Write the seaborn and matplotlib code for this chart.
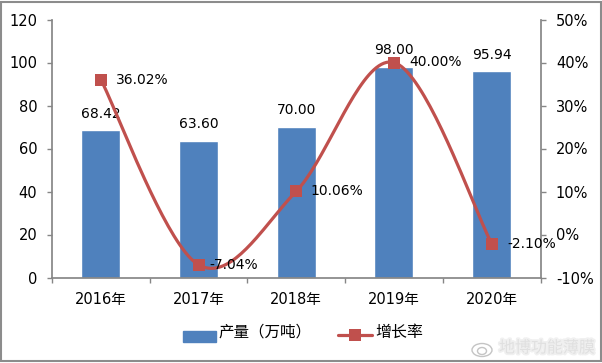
import numpy as np
import pandas as pd
import matplotlib
matplotlib.use("Agg")
import matplotlib.pyplot as plt
import matplotlib.patheffects as pe
import seaborn as sns
from matplotlib.patches import Rectangle, Ellipse
from matplotlib.lines import Line2D

years = ["2016年", "2017年", "2018年", "2019年", "2020年"]
output = [68.42, 63.60, 70.00, 98.00, 95.94]
growth = [36.02, -7.04, 10.06, 40.00, -2.10]
output_labels = ["68.42", "63.60", "70.00", "98.00", "95.94"]
growth_labels = ["36.02%", "-7.04%", "10.06%", "40.00%", "-2.10%"]
left_ticks = [0, 20, 40, 60, 80, 100, 120]
right_ticks = [-10, 0, 10, 20, 30, 40, 50]

BAR = "#4f81bd"
LINE = "#c0504d"
GREY = "#868686"

sns.set_theme(style="white")
plt.rcParams["font.family"] = ["DejaVu Sans", "Noto Sans CJK SC"]


def smooth_curve(xs, ys, n=40):
    # excel style smoothing, catmull-rom through the points
    xs = np.asarray(xs, dtype=float)
    ys = np.asarray(ys, dtype=float)
    px = np.r_[xs[0], xs, xs[-1]]
    py = np.r_[ys[0], ys, ys[-1]]
    out_x, out_y = [], []
    t = np.linspace(0, 1, n)
    for i in range(1, len(px) - 2):
        for p, out in ((px, out_x), (py, out_y)):
            a, b, c, d = p[i - 1], p[i], p[i + 1], p[i + 2]
            out.extend(0.5 * (2 * b + (c - a) * t + (2 * a - 5 * b + 4 * c - d) * t ** 2
                              + (3 * b - a - 3 * c + d) * t ** 3))
    return out_x, out_y


def fx(px):
    return px / 602


def fy(py):
    return 1 - py / 363


fig = plt.figure(figsize=(6.02, 3.63), dpi=100)
ax = fig.add_axes([fx(52), fy(277.5), 488.5 / 602, 258 / 363])

df = pd.DataFrame({"year": years, "output": output, "growth": growth})
sns.barplot(data=df, x="year", y="output", color=BAR, saturation=1, width=0.4, ax=ax)
ax.set_xlim(-0.5, 4.5)
ax.set_ylim(0, 120)
ax.set_xlabel("")
ax.set_ylabel("")
ax.set_yticks(left_ticks)

ax2 = ax.twinx()
cx, cy = smooth_curve(range(len(years)), growth)
sns.lineplot(x=cx, y=cy, color=LINE, lw=2.3, sort=False, ax=ax2)
sns.scatterplot(x=list(range(len(years))), y=growth, color=LINE, marker="s", s=80,
                linewidth=0, zorder=4, ax=ax2)
ax2.set_ylim(-10, 50)
ax2.set_yticks(right_ticks)
ax2.set_yticklabels([f"{v}%" for v in right_ticks])
ax2.set_ylabel("")

for a in (ax, ax2):
    for s in a.spines.values():
        s.set_visible(False)
ax.spines["left"].set_visible(True)
ax.spines["bottom"].set_visible(True)
ax.spines["left"].set_color(GREY)
ax.spines["bottom"].set_color(GREY)
ax2.spines["right"].set_visible(True)
ax2.spines["right"].set_color(GREY)

ax.tick_params(axis="y", left=True, length=3.6, width=1, color=GREY, labelsize=10.5,
               labelcolor="black", pad=7)
ax2.tick_params(axis="y", right=True, length=3.6, width=1, color=GREY, labelsize=10.5,
                labelcolor="black", pad=7.5)

# category ticks sit between the bars
ax.set_xticks(np.arange(-0.5, 5), minor=True)
ax.tick_params(axis="x", which="major", length=0, labelsize=10.5, labelcolor="black", pad=10.5)
ax.tick_params(axis="x", which="minor", bottom=True, length=3.6, width=1, color=GREY)

for i, label in enumerate(output_labels):
    ax.annotate(label, (i, output[i]), xytext=(0, 7), textcoords="offset points",
                ha="center", va="bottom", fontsize=10, color="black")

offsets = [(11, 0), (8, 0), (10, 0), (11, 0), (11, 0)]
for i, label in enumerate(growth_labels):
    ax2.annotate(label, (i, growth[i]), xytext=offsets[i], textcoords="offset points",
                 ha="left", va="center", fontsize=10, color="black", zorder=5)

fig.add_artist(Rectangle((fx(183), fy(342)), 33 / 602, 11 / 363, color=BAR,
                         transform=fig.transFigure))
fig.text(fx(218), fy(332), "产量（万吨）", fontsize=11.2, va="center", color="black")
fig.add_artist(Line2D([fx(338), fx(372)], [fy(335)] * 2, color=LINE, lw=2.3,
                      transform=fig.transFigure))
fig.add_artist(Line2D([fx(355)], [fy(335)], color=LINE, marker="s", ms=8, mew=0,
                      transform=fig.transFigure))
fig.text(fx(375), fy(332), "增长率", fontsize=11.5, va="center", color="black")

# weibo watermark, blurred in the source
for w, h, x0, y0 in [(20, 13, 482, 350), (9, 7, 482, 351)]:
    fig.add_artist(Ellipse((fx(x0), fy(y0)), w / 602, h / 363, fill=False, ec="#c4c4c4", lw=1,
                           transform=fig.transFigure))
fig.text(fx(499), fy(348), "地博功能薄膜", fontsize=11.5, va="center", color="#e0e0e0",
         path_effects=[pe.withStroke(linewidth=2.5, foreground="#f0f0f0")])

fig.add_artist(Rectangle((fx(1), fy(361)), 599.5 / 602, 359.5 / 363, fill=False, ec="#8c8c8c",
                         lw=1.5, transform=fig.transFigure))

fig.savefig("out.png", dpi=100)
